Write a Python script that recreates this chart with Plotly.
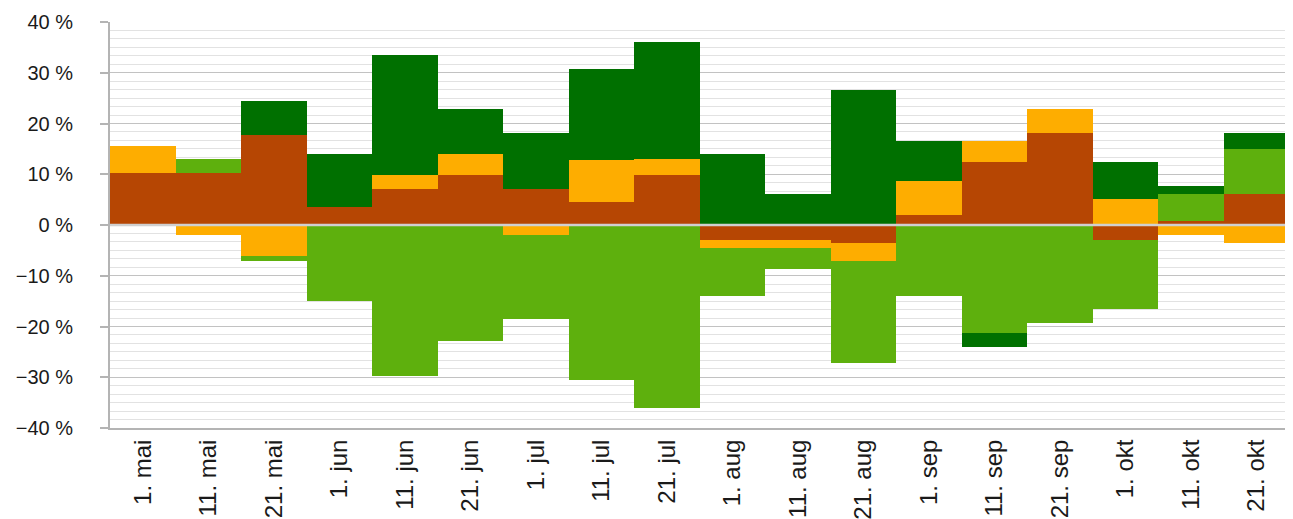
import plotly.graph_objects as go

categories = ["1. mai", "11. mai", "21. mai", "1. jun", "11. jun", "21. jun",
              "1. jul", "11. jul", "21. jul", "1. aug", "11. aug", "21. aug",
              "1. sep", "11. sep", "21. sep", "1. okt", "11. okt", "21. okt"]

brown = [10.25, 10.25, 17.75, 3.55, 7.1, 9.85, 7.1, 4.5, 9.85, -2.9, -2.9, -3.5,
         1.95, 12.4, 18.1, -2.9, 0.8, 6.1]
orange = [5.35, -2.0, -6.05, 0, 2.75, 4.15, -1.9, 8.3, 3.15, -1.6, -1.6, -3.55,
          6.7, 4.15, 4.8, 5.1, -1.9, -3.5]
light_green = [0, 2.75, -0.95, -14.9, -29.7, -22.9, -16.7, -30.6, -36.0, -9.5, -4.1, -20.05,
               -14.0, -21.2, -19.25, -13.6, 5.3, 8.9]
dark_green = [0, 0, 6.65, 10.45, 23.65, 8.9, 11.0, 17.9, 23.0, 14.0, 6.1, 26.6,
              7.9, -2.8, 0, 7.3, 1.6, 3.1]

y_ticks = [-40, -30, -20, -10, 0, 10, 20, 30, 40]
y_ticktext = [f"{v} %".replace("-", "\u2212") for v in y_ticks]

series = [
    ("brown", brown, "rgb(182,70,3)"),
    ("orange", orange, "rgb(254,173,0)"),
    ("light green", light_green, "rgb(94,176,13)"),
    ("dark green", dark_green, "rgb(0,112,0)"),
]

fig = go.Figure()
for name, vals, col in series:
    fig.add_trace(go.Bar(x=categories, y=vals, name=name,
                         marker=dict(color=col, line=dict(width=0))))

font = "Liberation Sans, Arial, Helvetica, sans-serif"
fig.update_layout(
    barmode="relative", bargap=0,
    width=1293, height=519,
    margin=dict(l=102, r=12, t=14, b=99),
    plot_bgcolor="white", paper_bgcolor="white",
    showlegend=False,
    font=dict(family=font, size=19, color="#1a1a1a"),
)
fig.update_yaxes(
    range=[-40, 40], tickvals=y_ticks, ticktext=y_ticktext,
    tickfont=dict(size=20), automargin=False,
    showgrid=True, gridcolor="#c2c2c2", gridwidth=1.2,
    zeroline=False,
    showline=True, linecolor="#b4b4b4", linewidth=2, mirror=True,
    ticks="outside", ticklen=8, tickcolor="#b4b4b4", tickwidth=1.5,
    ticklabelstandoff=23,
    minor=dict(dtick=10/6, tick0=0, showgrid=True, gridcolor="#e2e2e2", gridwidth=1.2),
)
fig.update_xaxes(
    tickangle=-90, showgrid=False, tickfont=dict(size=24), automargin=False,
    showline=True, linecolor="#b4b4b4", linewidth=2,
    ticks="", ticklabelstandoff=0,
)
fig.add_hline(y=0, line=dict(color="#d0d0d0", width=2.5), layer="above")

fig.write_html("out.html")
